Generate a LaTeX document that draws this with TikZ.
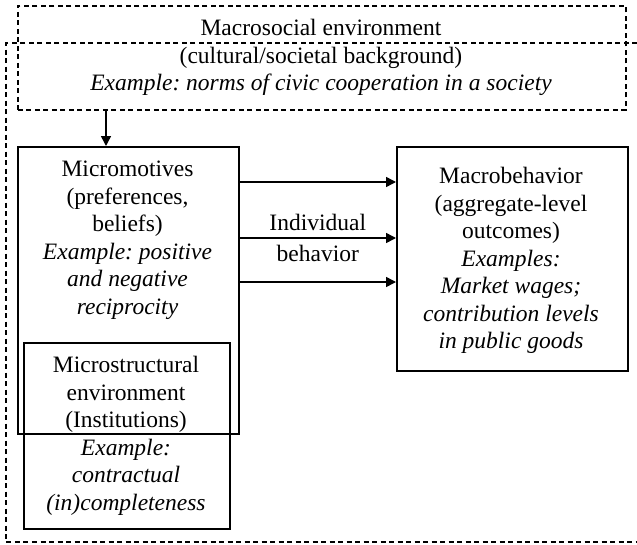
\documentclass[tikz,border=0pt]{standalone}
\usepackage{fontspec}
\setmainfont{Liberation Serif}
\usepackage{tikz}
\usetikzlibrary{arrows.meta}
\frenchspacing

\begin{document}
\begin{tikzpicture}[x=1pt, y=-1pt,
  font=\fontsize{23.5}{27.5}\selectfont,
  box/.style={draw, line width=1.5pt, inner sep=0pt, anchor=north west},
  dashbox/.style={draw, line width=1.5pt, dash pattern=on 5pt off 3.5pt, inner sep=0pt, anchor=north west},
  txt/.style={align=center, inner sep=0pt, anchor=north},
  arr/.style={line width=1.5pt, -{Triangle[length=10pt,width=10pt]}}]
\useasboundingbox (0,0) rectangle (637,544);
% outer frame, open on the right
\coordinate (ftr) at (637,43);
\coordinate (ftl) at (6,43);
\coordinate (fbl) at (6,542);
\coordinate (fbr) at (637,542);
\draw[line width=1.5pt, dash pattern=on 5pt off 3.5pt] (ftr) -- (ftl) -- (fbl) -- (fbr);
% boxes
\node[dashbox, minimum width=608pt, minimum height=104pt] (macsoc) at (17,5) {};
\node[box, minimum width=221pt, minimum height=287pt] (micro) at (17,146) {};
\node[box, minimum width=206pt, minimum height=186pt] (mstruct) at (23,342) {};
\node[box, minimum width=231pt, minimum height=224pt] (macro) at (396,146) {};
% texts
\node[txt] (macsoc text) at (321,19) {Macrosocial environment\\(cultural/societal background)\\\textit{Example: norms of civic cooperation in a society}};
\node[txt] (micro text) at (127.5,161) {Micromotives\\(preferences,\\beliefs)\\\textit{Example: positive}\\\textit{and negative}\\\textit{reciprocity}};
\node[txt] (mstruct text) at (126,356) {Microstructural\\environment\\(Institutions)\\\textit{Example:}\\\textit{contractual}\\\textit{(in)completeness}};
\node[txt] (macro text) at (511,167) {Macrobehavior\\(aggregate-level\\outcomes)\\\textit{Examples:}\\\textit{Market wages;}\\\textit{contribution levels}\\\textit{in public goods}};
% arrows
\coordinate (drop) at (106,0);
\draw[arr] (drop |- macsoc.south) -- (drop |- micro.north);
\draw[arr] (micro.east |- 0,182) -- (macro.west |- 0,182);
\draw[arr] (micro.east |- 0,238) -- node[above, inner sep=7pt] (ind) {Individual} node[below, inner sep=6pt] (beh) {behavior} (macro.west |- 0,238);
\draw[arr] (micro.east |- 0,282) -- (macro.west |- 0,282);
\end{tikzpicture}
\end{document}
